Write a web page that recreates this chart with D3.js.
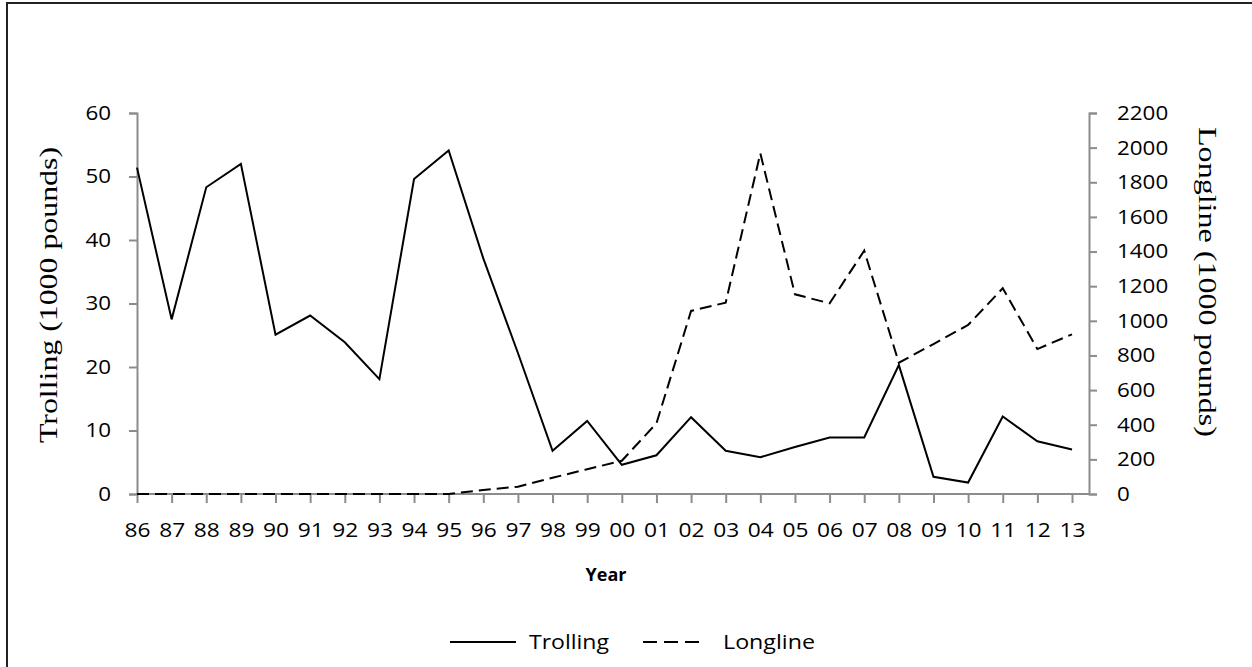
<!DOCTYPE html>
<html><head><meta charset="utf-8">
<script src="https://cdn.jsdelivr.net/npm/d3@7"></script>
<style>body{margin:0;background:#fff}svg{display:block}</style>
</head><body>
<svg id="c" width="1252" height="667"></svg>
<script>
const years = ["86","87","88","89","90","91","92","93","94","95","96","97","98","99","00","01","02","03","04","05","06","07","08","09","10","11","12","13"];
const trolling = [51.4,27.5,48.3,52.0,25.1,28.1,23.9,18.1,49.6,54.1,37.1,22.2,6.8,11.5,4.6,6.1,12.1,6.8,5.8,7.4,8.9,8.9,20.3,2.7,1.8,12.2,8.3,7.0];
const longline = [0,0,0,0,0,0,0,0,0,0,23,42,94,143,192,408,1057,1105,1967,1153,1101,1405,758,866,976,1188,837,922];
const leftTicks = [0,10,20,30,40,50,60];
const rightTicks = [0,200,400,600,800,1000,1200,1400,1600,1800,2000,2200];

const svg = d3.select("#c");
const gray = "#8c8c8c";
const tickFont = "'Open Sans', sans-serif";

svg.append("rect").attr("x",7).attr("y",3).attr("width",1260).attr("height",700)
  .attr("fill","none").attr("stroke","#222").attr("stroke-width",2);

const x = d3.scalePoint().domain(years).range([137,1072]);
const yL = d3.scaleLinear().domain([0,60]).range([494,113]);
const yR = d3.scaleLinear().domain([0,2200]).range([494,113]);

const gL = svg.append("g").attr("transform","translate(137,0)")
  .call(d3.axisLeft(yL).tickValues(leftTicks).tickSize(8).tickPadding(18));
const gR = svg.append("g").attr("transform","translate(1089,0)")
  .call(d3.axisRight(yR).tickValues(rightTicks).tickFormat(d3.format("d")).tickSize(8).tickPadding(20));
const gX = svg.append("g").attr("transform","translate(0,494)")
  .call(d3.axisBottom(x).tickSize(9).tickPadding(20));
gX.select(".domain").attr("d","M137,0H1089");

[gL,gR,gX].forEach(g=>{
  g.select(".domain").attr("stroke",gray).attr("stroke-width",2);
  g.selectAll(".tick line").attr("stroke",gray).attr("stroke-width",2);
  g.selectAll(".tick text").attr("fill","#000").style("font-family",tickFont).style("font-size","20px");
});
[gL,gR].forEach(g=>g.selectAll(".tick text")
  .attr("textLength",function(){return this.textContent.length*12.8;}).attr("lengthAdjust","spacingAndGlyphs"));
gX.selectAll(".tick text").attr("textLength",26).attr("lengthAdjust","spacingAndGlyphs");

const lineL = d3.line().x((d,i)=>x(years[i])).y(d=>yL(d));
const lineR = d3.line().x((d,i)=>x(years[i])).y(d=>yR(d));
svg.append("path").datum(longline).attr("d",lineR).attr("fill","none")
  .attr("stroke","#000").attr("stroke-width",2).attr("stroke-dasharray","12,6");
svg.append("path").datum(trolling).attr("d",lineL).attr("fill","none")
  .attr("stroke","#000").attr("stroke-width",2);

svg.append("text").attr("transform","translate(57,295) rotate(-90)")
  .attr("text-anchor","middle").style("font-family","'Liberation Serif', serif").style("font-size","25px")
  .attr("textLength",296).attr("lengthAdjust","spacingAndGlyphs")
  .text("Trolling (1000 pounds)");
svg.append("text").attr("transform","translate(1199,282) rotate(90)")
  .attr("text-anchor","middle").style("font-family","'Liberation Serif', serif").style("font-size","25px")
  .attr("textLength",310).attr("lengthAdjust","spacingAndGlyphs")
  .text("Longline (1000 pounds)");
svg.append("text").attr("x",606).attr("y",581).attr("text-anchor","middle")
  .style("font-family",tickFont).style("font-weight","bold").style("font-size","18px").text("Year");

const legend = [{name:"Trolling",dash:null,x1:450,x2:516,tx:529,len:80},{name:"Longline",dash:"14,7",x1:643,x2:706,tx:723,len:92}];
legend.forEach(l=>{
  svg.append("line").attr("x1",l.x1).attr("x2",l.x2).attr("y1",642).attr("y2",642)
    .attr("stroke","#000").attr("stroke-width",2).attr("stroke-dasharray",l.dash);
  svg.append("text").attr("x",l.tx).attr("y",649).style("font-family",tickFont).style("font-size","20px")
    .attr("textLength",l.len).attr("lengthAdjust","spacingAndGlyphs").text(l.name);
});
</script>
</body></html>
